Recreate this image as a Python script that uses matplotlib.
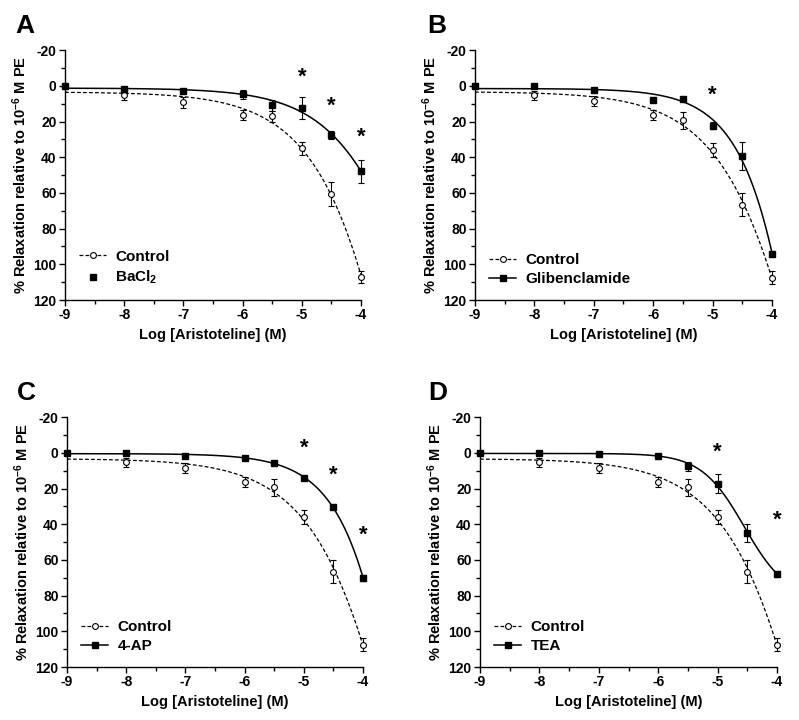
import matplotlib
matplotlib.use('Agg')
import matplotlib.pyplot as plt
import numpy as np
from matplotlib.lines import Line2D
from matplotlib.ticker import MultipleLocator

plt.rcParams['font.family'] = ['Liberation Sans', 'DejaVu Sans']
plt.rcParams['font.weight'] = 'bold'
plt.rcParams['mathtext.default'] = 'regular'
plt.rcParams['axes.unicode_minus'] = False

# 数据
x_conc = [-9, -8, -7, -6, -5.5, -5, -4.5, -4]

ctrl_a = [0, 4.9, 9.3, 16.4, 17, 35, 60.8, 107]
ctrl_a_err = [0, 3, 3, 2.7, 3, 3.7, 6.7, 3.5]
ctrl = [0, 5.2, 8.5, 16.4, 19.4, 36, 66.5, 107.5]
ctrl_err = [0, 2.5, 3, 2.7, 4.5, 3.9, 6.5, 3.5]

bacl2 = [0, 1.5, 2.8, 4.7, 10.8, 12.3, 27.6, 47.8]
bacl2_err = [0, 0.8, 1, 2.5, 3, 6, 2.4, 6.5]
glib = [0, 0, 2.4, 7.8, 7.1, 22.4, 39.2, 94.2]
glib_err = [0, 0.5, 0.8, 1, 1, 2, 7.8, 1]
ap4 = [0, 0, 2, 3, 5.6, 14, 30.4, 70.1]
ap4_err = [0, 0.5, 0.5, 0.5, 0.8, 1, 1, 1.5]
tea = [0, 0, 0.5, 1.7, 7.5, 17.4, 44.8, 67.7]
tea_err = [0, 0.5, 0.5, 1, 2.5, 5.3, 5, 1.7]

# 显著性星号 (x, y)
stars_a = [(-5, -5), (-4.5, 11.5), (-4, 29)]
stars_b = [(-5, 5)]
stars_c = [(-5, -2.8), (-4.5, 12.7), (-4, 46.3)]
stars_d = [(-5, -0.5), (-4, 37.7)]


def fit_curve(x, y):
    # 四参数logistic拟合 (网格搜索 + 线性最小二乘)
    x = np.array(x, float)
    y = np.array(y, float)
    best = None
    for c in np.linspace(-7, -2.5, 181):
        for h in np.linspace(0.3, 3, 55):
            s = 1 / (1 + 10 ** ((c - x) * h))
            A = np.column_stack([np.ones_like(s), s])
            coef = np.linalg.lstsq(A, y, rcond=None)[0]
            err = np.sum((A @ coef - y) ** 2)
            if best is None or err < best[0]:
                best = (err, c, h, coef)
    _, c, h, coef = best
    xs = np.linspace(-9, -4, 300)
    s = 1 / (1 + 10 ** ((c - xs) * h))
    return xs, coef[0] + coef[1] * s


fig = plt.figure(figsize=(7.99, 7.2), dpi=100)
pos = [[0.0814, 0.5833, 0.3705, 0.347],
       [0.5945, 0.5833, 0.3717, 0.347],
       [0.0839, 0.0736, 0.3705, 0.347],
       [0.6008, 0.0736, 0.3717, 0.347]]
letter_x = [-0.169, -0.162, -0.169, -0.175]
panels = [('A', ctrl_a, ctrl_a_err, bacl2, bacl2_err, 'BaCl$_2$', stars_a, False),
          ('B', ctrl, ctrl_err, glib, glib_err, 'Glibenclamide', stars_b, True),
          ('C', ctrl, ctrl_err, ap4, ap4_err, '4-AP', stars_c, True),
          ('D', ctrl, ctrl_err, tea, tea_err, 'TEA', stars_d, True)]

for p, lx, (letter, cy, ce, ty, te, tname, stars, legline) in zip(pos, letter_x, panels):
    ax = fig.add_axes(p)
    # 拟合曲线
    xs, ys = fit_curve(x_conc, cy)
    ax.plot(xs, ys, color='k', lw=0.9, dashes=(3, 1.8), clip_on=False)
    xs, ys = fit_curve(x_conc, ty)
    ax.plot(xs, ys, color='k', lw=1.1, clip_on=False)
    # 误差棒
    ax.errorbar(x_conc, cy, yerr=ce, fmt='none', ecolor='k', elinewidth=0.8,
                capsize=2.5, capthick=0.8, clip_on=False)
    ax.errorbar(x_conc, ty, yerr=te, fmt='none', ecolor='k', elinewidth=0.8,
                capsize=2.5, capthick=0.8, clip_on=False)
    ax.plot(x_conc, cy, 'o', ms=4.2, mfc='white', mec='k', mew=0.8, clip_on=False, zorder=4)
    ax.plot(x_conc, ty, 's', ms=4.5, mfc='k', mec='k', clip_on=False, zorder=4)
    for sx, sy in stars:
        ax.text(sx, sy, '*', ha='center', va='center', fontsize=16, fontweight='bold')

    ax.set_xlim(-9, -4)
    ax.set_ylim(120, -20)
    ax.xaxis.set_major_locator(MultipleLocator(1))
    ax.xaxis.set_minor_locator(MultipleLocator(0.5))
    ax.yaxis.set_major_locator(MultipleLocator(20))
    ax.yaxis.set_minor_locator(MultipleLocator(10))
    ax.spines['top'].set_visible(False)
    ax.spines['right'].set_visible(False)
    ax.spines['left'].set_linewidth(1)
    ax.spines['bottom'].set_linewidth(1)
    ax.tick_params(which='major', length=4, width=1, labelsize=10, pad=2)
    ax.tick_params(which='minor', length=2.8, width=1)
    for lab in ax.get_xticklabels() + ax.get_yticklabels():
        lab.set_fontweight('bold')
    ax.set_xlabel('Log [Aristoteline] (M)', fontsize=10.5, fontweight='bold', labelpad=4)
    ax.set_ylabel('% Relaxation relative to 10$^{-6}$ M PE', fontsize=10.5,
                  fontweight='bold', labelpad=3)

    h_ctrl = Line2D([], [], color='k', lw=0.9, dashes=(3, 1.8), marker='o', ms=4.2,
                    mfc='white', mec='k', mew=0.8)
    if legline:
        h_trt = Line2D([], [], color='k', lw=1.1, marker='s', ms=4.5, mfc='k')
    else:
        h_trt = Line2D([], [], ls='none', marker='s', ms=4.5, mfc='k', mec='k')
    ax.legend([h_ctrl, h_trt], ['Control', tname], loc='lower left',
              bbox_to_anchor=(0.0, 0.0), frameon=False,
              handlelength=1.8, handletextpad=0.6, labelspacing=0.35,
              prop={'weight': 'bold', 'size': 11})

    ax.text(lx, 1.068, letter, transform=ax.transAxes, fontsize=19,
            fontweight='bold', ha='left', va='baseline')

fig.savefig('out.png', dpi=100)
